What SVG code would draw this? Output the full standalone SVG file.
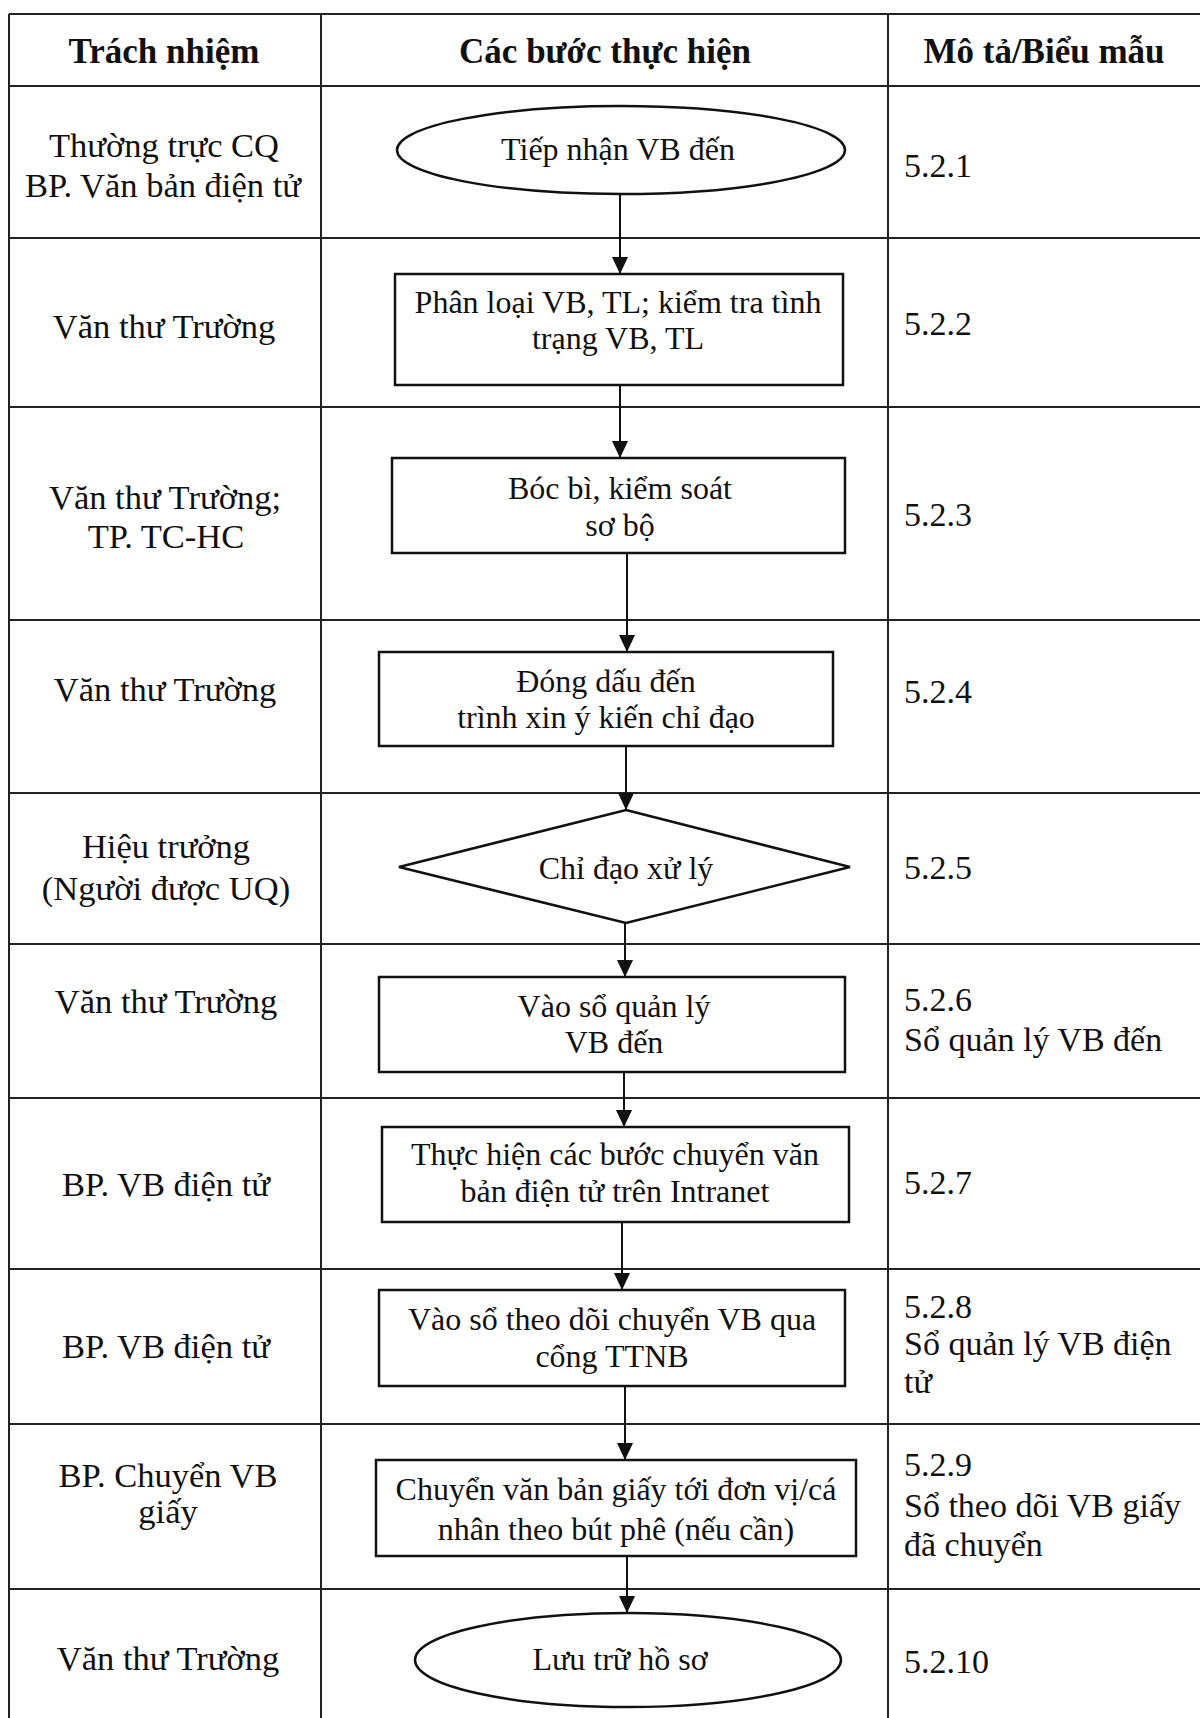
<svg xmlns="http://www.w3.org/2000/svg" width="1200" height="1718" viewBox="0 0 1200 1718">
<defs>
<style>
.t{font-family:"Liberation Serif","Times New Roman",serif;fill:#111;}
.h{font-size:35px;font-weight:bold;text-anchor:middle;}
.l{font-size:34.5px;text-anchor:middle;}
.r{font-size:34px;}
.b{font-size:32px;text-anchor:middle;}
.grid{stroke:#222;stroke-width:2;fill:none;}
.shape{stroke:#111;stroke-width:2.5;fill:#fff;}
.conn{stroke:#111;stroke-width:2;fill:none;}
</style>
<marker id="arr" markerWidth="17" markerHeight="18" refX="18" refY="8.5" orient="auto" markerUnits="userSpaceOnUse" viewBox="0 0 18 17">
<path d="M0,0 L18,8.5 L0,17 Z" fill="#111"/>
</marker>
</defs>
<rect x="0" y="0" width="1200" height="1718" fill="#fff"/>
<g id="table" class="grid">
<line x1="9" y1="14" x2="1200" y2="14"/>
<line x1="9" y1="86" x2="1200" y2="86"/>
<line x1="9" y1="238" x2="1200" y2="238"/>
<line x1="9" y1="407" x2="1200" y2="407"/>
<line x1="9" y1="620" x2="1200" y2="620"/>
<line x1="9" y1="793" x2="1200" y2="793"/>
<line x1="9" y1="944" x2="1200" y2="944"/>
<line x1="9" y1="1098" x2="1200" y2="1098"/>
<line x1="9" y1="1269" x2="1200" y2="1269"/>
<line x1="9" y1="1424" x2="1200" y2="1424"/>
<line x1="9" y1="1589" x2="1200" y2="1589"/>
<line x1="9" y1="14" x2="9" y2="1718"/>
<line x1="321" y1="14" x2="321" y2="1718"/>
<line x1="888" y1="14" x2="888" y2="1718"/>
</g>
<g id="headers" class="t h">
<text x="164" y="63">Trách nhiệm</text>
<text x="605" y="63">Các bước thực hiện</text>
<text x="1044" y="63">Mô tả/Biểu mẫu</text>
</g>
<g id="responsibility" class="t l">
<text x="164" y="157">Thường trực CQ</text>
<text x="163" y="197">BP. Văn bản điện tử</text>
<text x="164" y="338">Văn thư Trường</text>
<text x="165" y="509">Văn thư Trường;</text>
<text x="166" y="548">TP. TC-HC</text>
<text x="165" y="701">Văn thư Trường</text>
<text x="166" y="858">Hiệu trưởng</text>
<text x="166" y="900">(Người được UQ)</text>
<text x="166" y="1013">Văn thư Trường</text>
<text x="166" y="1196">BP. VB điện tử</text>
<text x="166" y="1358">BP. VB điện tử</text>
<text x="168" y="1487">BP. Chuyển VB</text>
<text x="168" y="1523">giấy</text>
<text x="168" y="1670">Văn thư Trường</text>
</g>
<g id="descriptions" class="t r">
<text x="904" y="177">5.2.1</text>
<text x="904" y="335">5.2.2</text>
<text x="904" y="526">5.2.3</text>
<text x="904" y="703">5.2.4</text>
<text x="904" y="879">5.2.5</text>
<text x="904" y="1011">5.2.6</text>
<text x="904" y="1051">Sổ quản lý VB đến</text>
<text x="904" y="1194">5.2.7</text>
<text x="904" y="1318">5.2.8</text>
<text x="904" y="1355">Sổ quản lý VB điện</text>
<text x="904" y="1393">tử</text>
<text x="904" y="1476">5.2.9</text>
<text x="904" y="1517">Sổ theo dõi VB giấy</text>
<text x="904" y="1556">đã chuyển</text>
<text x="904" y="1673">5.2.10</text>
</g>
<g id="connectors" class="conn">
<line x1="620" y1="194" x2="620" y2="274" marker-end="url(#arr)"/>
<line x1="620" y1="385" x2="620" y2="458" marker-end="url(#arr)"/>
<line x1="627" y1="553" x2="627" y2="652" marker-end="url(#arr)"/>
<line x1="626" y1="746" x2="626" y2="810" marker-end="url(#arr)"/>
<line x1="625" y1="923" x2="625" y2="977" marker-end="url(#arr)"/>
<line x1="624" y1="1072" x2="624" y2="1127" marker-end="url(#arr)"/>
<line x1="622" y1="1222" x2="622" y2="1290" marker-end="url(#arr)"/>
<line x1="625" y1="1386" x2="625" y2="1460" marker-end="url(#arr)"/>
<line x1="627" y1="1556" x2="627" y2="1613" marker-end="url(#arr)"/>
</g>
<g id="n1">
<ellipse class="shape" cx="621" cy="150" rx="224" ry="44"/>
<text class="t b" x="618" y="160">Tiếp nhận VB đến</text>
</g>
<g id="n2">
<rect class="shape" x="395" y="274" width="448" height="111"/>
<text class="t b" x="618" y="313">Phân loại VB, TL; kiểm tra tình</text>
<text class="t b" x="618" y="349">trạng VB, TL</text>
</g>
<g id="n3">
<rect class="shape" x="392" y="458" width="453" height="95"/>
<text class="t b" x="620" y="499">Bóc bì, kiểm soát</text>
<text class="t b" x="620" y="536">sơ bộ</text>
</g>
<g id="n4">
<rect class="shape" x="379" y="652" width="454" height="94"/>
<text class="t b" x="606" y="692">Đóng dấu đến</text>
<text class="t b" x="606" y="728">trình xin ý kiến chỉ đạo</text>
</g>
<g id="n5">
<polygon class="shape" points="626,810 850,867 626,923 399,867"/>
<text class="t b" x="626" y="879">Chỉ đạo xử lý</text>
</g>
<g id="n6">
<rect class="shape" x="379" y="977" width="466" height="95"/>
<text class="t b" x="614" y="1017">Vào sổ quản lý</text>
<text class="t b" x="614" y="1053">VB đến</text>
</g>
<g id="n7">
<rect class="shape" x="382" y="1127" width="467" height="95"/>
<text class="t b" x="615" y="1165">Thực hiện các bước chuyển văn</text>
<text class="t b" x="615" y="1202">bản điện tử trên Intranet</text>
</g>
<g id="n8">
<rect class="shape" x="379" y="1290" width="466" height="96"/>
<text class="t b" x="612" y="1330">Vào sổ theo dõi chuyển VB qua</text>
<text class="t b" x="612" y="1367">cổng TTNB</text>
</g>
<g id="n9">
<rect class="shape" x="376" y="1460" width="480" height="96"/>
<text class="t b" x="616" y="1500">Chuyển văn bản giấy tới đơn vị/cá</text>
<text class="t b" x="616" y="1540">nhân theo bút phê (nếu cần)</text>
</g>
<g id="n10">
<ellipse class="shape" cx="628" cy="1660" rx="213" ry="47"/>
<text class="t b" x="620" y="1670">Lưu trữ hồ sơ</text>
</g>
</svg>
